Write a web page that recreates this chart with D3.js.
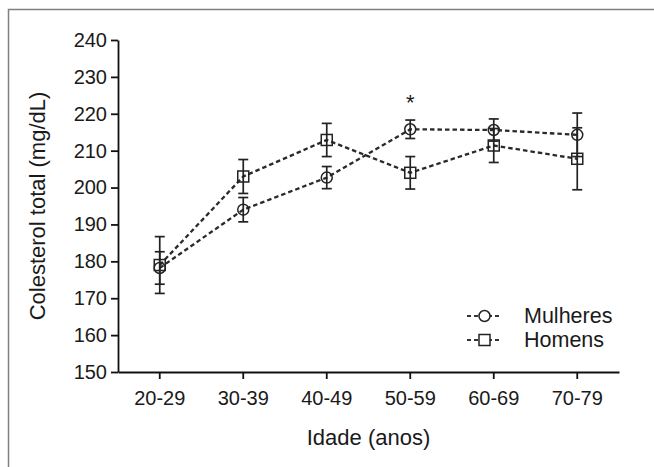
<!DOCTYPE html>
<html>
<head>
<meta charset="utf-8">
<script src="https://cdn.jsdelivr.net/npm/d3@7"></script>
<style>
  body { margin: 0; background: #fff; }
  text { font-family: "Liberation Sans", Arial, sans-serif; fill: #1a1a1a; }
</style>
</head>
<body>
<script>
// Data
const categories = ["20-29", "30-39", "40-49", "50-59", "60-69", "70-79"];
const mulheres = [178.2, 194.0, 202.7, 215.8, 215.6, 214.3];
const mulheresErr = [4.4, 3.3, 3.0, 2.5, 3.0, 5.9];
const homens = [179.0, 203.0, 212.9, 204.0, 211.4, 207.8];
const homensErr = [7.7, 4.6, 4.5, 4.4, 4.6, 8.4];
const yTicks = [150, 160, 170, 180, 190, 200, 210, 220, 230, 240];
const significant = ["50-59"];

const width = 654;
const height = 467;
const margin = { top: 40, right: 35, bottom: 95, left: 118 };

const svg = d3
  .select("body")
  .append("svg")
  .attr("width", width)
  .attr("height", height);

// outer frame
svg
  .append("rect")
  .attr("x", 8.5)
  .attr("y", 9.5)
  .attr("width", width)
  .attr("height", height)
  .attr("fill", "none")
  .attr("stroke", "#808080")
  .attr("stroke-width", 1.5);

const x = d3
  .scaleBand()
  .domain(categories)
  .range([margin.left, width - margin.right])
  .padding(0);

const y = d3
  .scaleLinear()
  .domain([150, 240])
  .range([height - margin.bottom, margin.top]);

const cx = (c) => x(c) + x.bandwidth() / 2;

// axes
const gx = svg
  .append("g")
  .attr("transform", `translate(0,${height - margin.bottom})`)
  .call(d3.axisBottom(x).tickSizeOuter(0).tickSizeInner(7).tickPadding(12));

const gy = svg
  .append("g")
  .attr("transform", `translate(${margin.left},0)`)
  .call(d3.axisLeft(y).tickValues(yTicks).tickSizeOuter(0).tickSizeInner(7).tickPadding(4));

[gx, gy].forEach((g) => {
  g.selectAll("path, line").attr("stroke", "#111").attr("stroke-width", 1.8);
  g.selectAll("text").attr("font-size", 20).attr("fill", "#1a1a1a");
});

// axis titles
svg
  .append("text")
  .attr("x", (margin.left + width - margin.right) / 2)
  .attr("y", 445)
  .attr("text-anchor", "middle")
  .attr("font-size", 22)
  .text("Idade (anos)");

svg
  .append("text")
  .attr("transform", `translate(45,${(y(150) + y(240)) / 2}) rotate(-90)`)
  .attr("text-anchor", "middle")
  .attr("font-size", 22)
  .text("Colesterol total (mg/dL)");

const series = [
  { name: "Mulheres", values: mulheres, err: mulheresErr, shape: "circle" },
  { name: "Homens", values: homens, err: homensErr, shape: "square" },
];

const line = d3
  .line()
  .x((d) => cx(d.c))
  .y((d) => y(d.v));

const ink = "#222";

series.forEach((s) => {
  const pts = categories.map((c, i) => ({ c: c, v: s.values[i], e: s.err[i] }));

  svg
    .append("path")
    .datum(pts)
    .attr("d", line)
    .attr("fill", "none")
    .attr("stroke", "#2a2a2a")
    .attr("stroke-width", 2.3)
    .attr("stroke-dasharray", "4.5,3");

  const eb = svg.append("g").selectAll("g").data(pts).enter().append("g");
  eb.append("line")
    .attr("x1", (d) => cx(d.c))
    .attr("x2", (d) => cx(d.c))
    .attr("y1", (d) => y(d.v - d.e))
    .attr("y2", (d) => y(d.v + d.e));
  eb.append("line")
    .attr("x1", (d) => cx(d.c) - 5)
    .attr("x2", (d) => cx(d.c) + 5)
    .attr("y1", (d) => y(d.v + d.e))
    .attr("y2", (d) => y(d.v + d.e));
  eb.append("line")
    .attr("x1", (d) => cx(d.c) - 5)
    .attr("x2", (d) => cx(d.c) + 5)
    .attr("y1", (d) => y(d.v - d.e))
    .attr("y2", (d) => y(d.v - d.e));
  eb.selectAll("line").attr("stroke", ink).attr("stroke-width", 1.7);

  const mk = svg.append("g").selectAll(".mk").data(pts).enter();
  if (s.shape === "circle") {
    mk.append("circle")
      .attr("cx", (d) => cx(d.c))
      .attr("cy", (d) => y(d.v))
      .attr("r", 5.5)
      .attr("fill", "none")
      .attr("stroke", ink)
      .attr("stroke-width", 1.5);
  } else {
    mk.append("rect")
      .attr("x", (d) => cx(d.c) - 5.5)
      .attr("y", (d) => y(d.v) - 5.5)
      .attr("width", 11)
      .attr("height", 11)
      .attr("fill", "none")
      .attr("stroke", ink)
      .attr("stroke-width", 1.5);
  }
});

// significance mark
svg
  .selectAll(".star")
  .data(significant)
  .enter()
  .append("text")
  .attr("x", (c) => cx(c))
  .attr("y", (c) => y(mulheres[categories.indexOf(c)]) - 19)
  .attr("text-anchor", "middle")
  .attr("font-size", 22)
  .text("*");

// legend
const legend = svg.append("g").attr("transform", "translate(467,316)");
series.forEach((s, i) => {
  const g = legend.append("g").attr("transform", `translate(0,${i * 24})`);
  g.append("line")
    .attr("x1", 0)
    .attr("x2", 35)
    .attr("stroke", "#333")
    .attr("stroke-width", 2)
    .attr("stroke-dasharray", "4,3");
  if (s.shape === "circle") {
    g.append("circle").attr("cx", 17.5).attr("r", 5.5);
  } else {
    g.append("rect").attr("x", 12).attr("y", -5.5).attr("width", 11).attr("height", 11);
  }
  g.selectAll("circle, rect").attr("fill", "#fff").attr("stroke", ink).attr("stroke-width", 1.5);
  g.append("text")
    .attr("x", 57)
    .attr("y", 7)
    .attr("font-size", 21.5)
    .text(s.name);
});
</script>
</body>
</html>
